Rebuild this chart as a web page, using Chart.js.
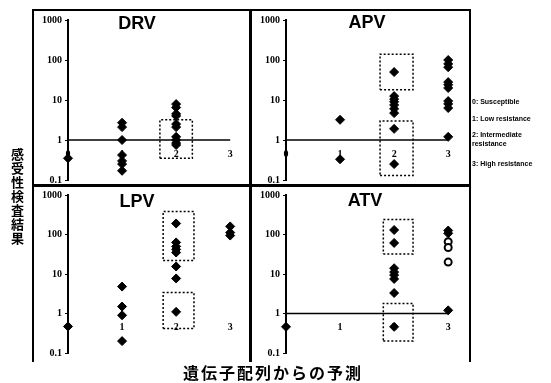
<!DOCTYPE html>
<html>
<head>
<meta charset="utf-8">
<script src="https://cdn.jsdelivr.net/npm/chart.js@4.4.1/dist/chart.umd.min.js"></script>
<style>
  body { margin: 0; background: #fff; width: 551px; height: 383px; position: relative; overflow: hidden; color: #000; }
  .panel { position: absolute; }
  .rule { position: absolute; background: #000; z-index: 2; }
  .title { position: absolute; width: 80px; text-align: center; font: bold 18px "Liberation Sans", Arial, sans-serif; line-height: 20px; z-index: 3; }
  .legend { position: absolute; left: 472px; font: bold 7px "Liberation Sans", Arial, sans-serif; line-height: 9px; white-space: nowrap; color: #000; will-change: transform; }
  #ylab { position: absolute; left: 8px; top: 148px; writing-mode: vertical-rl; font: bold 13px "Noto Sans CJK JP", sans-serif; letter-spacing: 1px; color: #000; will-change: transform; }
  #xlab { position: absolute; left: 183px; top: 362px; font: bold 16px "Noto Sans CJK JP", sans-serif; letter-spacing: 2px; line-height: 20px; will-change: transform; }
</style>
</head>
<body>

<div class="panel" style="left:33px;top:10px;width:217px;height:179px"><canvas id="drv"></canvas></div>
<div class="panel" style="left:250px;top:10px;width:220px;height:179px"><canvas id="apv"></canvas></div>
<div class="panel" style="left:33px;top:185px;width:217px;height:177px"><canvas id="lpv"></canvas></div>
<div class="panel" style="left:250px;top:185px;width:220px;height:177px"><canvas id="atv"></canvas></div>

<div class="rule" style="left:32px;top:9px;width:439px;height:2px"></div>
<div class="rule" style="left:32px;top:184px;width:439px;height:3px"></div>
<div class="rule" style="left:32px;top:9px;width:2px;height:353px"></div>
<div class="rule" style="left:249px;top:9px;width:3px;height:353px"></div>
<div class="rule" style="left:469px;top:9px;width:2px;height:353px"></div>

<div class="title" style="left:97px;top:13px">DRV</div>
<div class="title" style="left:327px;top:12px">APV</div>
<div class="title" style="left:97px;top:191px">LPV</div>
<div class="title" style="left:325px;top:190px">ATV</div>

<div class="legend" style="top:97px">0: Susceptible</div>
<div class="legend" style="top:114px">1: Low resistance</div>
<div class="legend" style="top:130px">2: Intermediate<br>resistance</div>
<div class="legend" style="top:159px">3: High resistance</div>

<div id="ylab">感受性検査結果</div>
<div id="xlab">遺伝子配列からの予測</div>

<script>
  const categories = ["0", "1", "2", "3"];
  const yTicks = [0.1, 1, 10, 100, 1000];
  const yTickLabels = ["0.1", "1", "10", "100", "1000"];

  // values per category (0..3)
  const drvValues = [[0.35], [2.7, 2.1, 1.0, 0.42, 0.3, 0.25, 0.17], [7.9, 6.5, 4.5, 4.0, 2.5, 2.1, 1.2, 1.0, 0.84, 0.75], []];
  const apvValues = [[], [3.2, 0.33], [50, 12.5, 10.5, 9, 7.5, 6, 4.7, 1.9, 0.25], [100, 80, 66, 28, 24, 20, 9.4, 8, 6.3, 1.2]];
  const lpvValues = [[0.47], [4.8, 1.5, 0.9, 0.2], [190, 63, 50, 42, 35, 15.5, 7.7, 1.1], [160, 112, 94]];
  const atvValues = [[0.46], [], [130, 61, 14, 11.2, 9.4, 7.5, 3.3, 0.46], [126, 107, 1.2]];
  const atvOpen = [[], [], [], [66, 47, 20]];

  // boxes: [xFrom, xTo, yFrom, yTo]
  const drvBoxes = [[1.7, 2.3, 0.35, 3.2]];
  const apvBoxes = [[1.74, 2.35, 18, 140], [1.74, 2.35, 0.13, 3.0]];
  const lpvBoxes = [[1.76, 2.33, 22, 380], [1.76, 2.33, 0.42, 3.4]];
  const atvBoxes = [[1.8, 2.35, 32, 240], [1.8, 2.35, 0.2, 1.8]];

  const labelLevel = 0.44;

  function toPoints(values) {
    return values.flatMap((vs, i) => vs.map(v => ({ x: i, y: v })));
  }

  const catLabels = {
    id: "catLabels",
    afterDatasetsDraw(chart) {
      const { ctx, scales: { x, y } } = chart;
      ctx.save();
      ctx.font = "bold 10px 'Liberation Serif'";
      ctx.fillStyle = "#000";
      ctx.textAlign = "center";
      ctx.textBaseline = "middle";
      categories.forEach((c, i) => ctx.fillText(c, x.getPixelForValue(i), y.getPixelForValue(labelLevel)));
      ctx.restore();
    }
  };

  function makePanel(id, values, boxes, refLine, openValues, axisOffset, padRight, padBottom) {
    const datasets = [];
    boxes.forEach(b => {
      datasets.push({
        type: "line",
        data: [{ x: b[0], y: b[2] }, { x: b[1], y: b[2] }, { x: b[1], y: b[3] }, { x: b[0], y: b[3] }, { x: b[0], y: b[2] }],
        borderColor: "#000",
        borderWidth: 1.5,
        borderDash: [2, 2],
        pointRadius: 0,
        fill: false,
        clip: false
      });
    });
    if (refLine) {
      datasets.push({
        type: "line",
        data: [{ x: 0, y: 1 }, { x: 3, y: 1 }],
        borderColor: "#000",
        borderWidth: 1.5,
        pointRadius: 0,
        clip: false
      });
    }
    datasets.push({
      data: toPoints(values),
      pointStyle: "rectRot",
      pointRadius: 4.5,
      backgroundColor: "#000",
      borderColor: "#000",
      clip: false
    });
    if (openValues) {
      datasets.push({
        data: toPoints(openValues),
        pointStyle: "circle",
        pointRadius: 3.5,
        backgroundColor: "#fff",
        borderColor: "#000",
        borderWidth: 2,
        clip: false
      });
    }

    new Chart(document.getElementById(id), {
      type: "scatter",
      data: { datasets },
      options: {
        responsive: true,
        maintainAspectRatio: false,
        animation: false,
        layout: { padding: { top: 10, left: 0, right: padRight, bottom: padBottom } },
        plugins: { legend: { display: false }, tooltip: { enabled: false } },
        scales: {
          x: { type: "linear", min: 0, max: 3.2, display: false },
          y: {
            type: "logarithmic",
            min: 0.1,
            max: 1000,
            afterBuildTicks: s => { s.ticks = yTicks.map(v => ({ value: v })); },
            afterFit: s => { s.width = axisOffset; },
            ticks: {
              callback: (v, i) => yTickLabels[i],
              font: { family: "Liberation Serif", size: 10, weight: "bold" },
              color: "#000",
              padding: 3
            },
            grid: { drawOnChartArea: false, tickLength: 3, color: "#000" },
            border: { display: true, color: "#000", width: 2 }
          }
        }
      },
      plugins: [catLabels]
    });
  }

  makePanel("drv", drvValues, drvBoxes, true, null, 35, 9, 5);
  makePanel("apv", apvValues, apvBoxes, true, null, 36, 11, 5);
  makePanel("lpv", lpvValues, lpvBoxes, false, null, 35, 9, 9);
  makePanel("atv", atvValues, atvBoxes, true, atvOpen, 36, 11, 9);
</script>
</body>
</html>
